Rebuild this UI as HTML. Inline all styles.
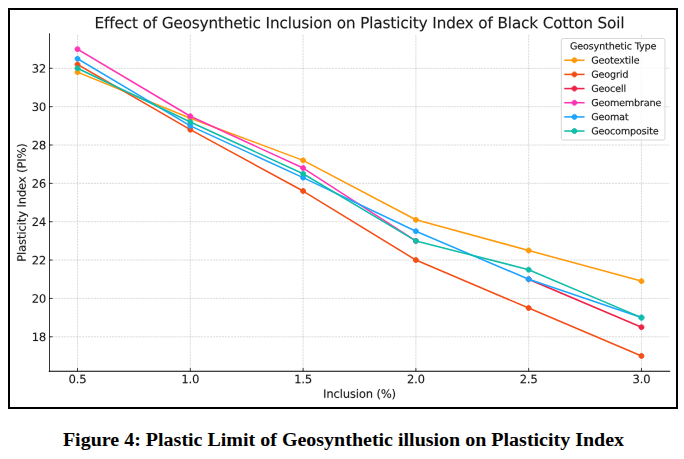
<!DOCTYPE html>
<html><head><meta charset="utf-8"><title>Figure 4</title>
<style>
html,body{margin:0;padding:0;background:#fff;}
body{width:684px;height:459px;position:relative;overflow:hidden;font-family:"Liberation Serif",serif;}
#frame{position:absolute;left:8px;top:8px;width:666px;height:397px;border:2px solid #000;background:#fff;overflow:hidden;}
#frame svg{position:absolute;left:0;top:0;width:666px;height:397px;display:block;}
#frame svg g[id^="text_"]{stroke:#1c1c1c;stroke-width:0.15px;fill:#1c1c1c;}
#frame svg path[id^="DejaVuSans"]{vector-effect:non-scaling-stroke;}
#cap{position:absolute;left:0;top:429px;width:687px;text-align:center;font-family:"Liberation Serif",serif;font-weight:bold;font-size:18px;line-height:22px;transform:scaleX(1.111);transform-origin:343.5px 0;color:#000;white-space:nowrap;}
</style></head><body>
<div id="frame"><svg viewBox="-0.4273 -0.0000 711.4238 422.8515" preserveAspectRatio="none"> <defs> <style type="text/css">*{stroke-linejoin: round; stroke-linecap: butt}</style> </defs> <g id="figure_1"> <g id="patch_1"> <path d="M 0 422.745 L 711.424 422.745 L 711.424 0 L 0 0 z " style="fill: #ffffff"/> </g> <g id="axes_1"> <g id="patch_2"> <path d="M 41.584 384.817 L 704.224 384.817 L 704.224 25.358 L 41.584 25.358 z " style="fill: #ffffff"/> </g> <g id="matplotlib.axis_1"> <g id="xtick_1"> <g id="line2d_1"> <path d="M 71.704 384.817 L 71.704 25.358 " clip-path="url(#pd07995633c)" style="fill: none; stroke-dasharray: 2.22,0.96; stroke-dashoffset: 0; stroke: #808080; stroke-opacity: 0.5; stroke-width: 0.6"/> </g> <g id="line2d_2"> <defs> <path id="m3690e3005e" d="M 0 0 L 0 -3.5 " style="stroke: #000000; stroke-width: 0.8"/> </defs> <g> <use href="#m3690e3005e" x="71.704" y="384.817" style="stroke: #000000; stroke-width: 0.8"/> </g> </g> <g id="text_1"> <!-- 0.5 --> <g transform="translate(62.162 397.436) scale(0.12 -0.12)"> <defs> <path id="DejaVuSans-30" d="M 2034 4250 Q 1547 4250 1301 3770 Q 1056 3291 1056 2328 Q 1056 1369 1301 889 Q 1547 409 2034 409 Q 2525 409 2770 889 Q 3016 1369 3016 2328 Q 3016 3291 2770 3770 Q 2525 4250 2034 4250 z M 2034 4750 Q 2819 4750 3233 4129 Q 3647 3509 3647 2328 Q 3647 1150 3233 529 Q 2819 -91 2034 -91 Q 1250 -91 836 529 Q 422 1150 422 2328 Q 422 3509 836 4129 Q 1250 4750 2034 4750 z " transform="scale(0.016)"/> <path id="DejaVuSans-2e" d="M 684 794 L 1344 794 L 1344 0 L 684 0 L 684 794 z " transform="scale(0.016)"/> <path id="DejaVuSans-35" d="M 691 4666 L 3169 4666 L 3169 4134 L 1269 4134 L 1269 2991 Q 1406 3038 1543 3061 Q 1681 3084 1819 3084 Q 2600 3084 3056 2656 Q 3513 2228 3513 1497 Q 3513 744 3044 326 Q 2575 -91 1722 -91 Q 1428 -91 1123 -41 Q 819 9 494 109 L 494 744 Q 775 591 1075 516 Q 1375 441 1709 441 Q 2250 441 2565 725 Q 2881 1009 2881 1497 Q 2881 1984 2565 2268 Q 2250 2553 1709 2553 Q 1456 2553 1204 2497 Q 953 2441 691 2322 L 691 4666 z " transform="scale(0.016)"/> </defs> <use href="#DejaVuSans-30"/> <use href="#DejaVuSans-2e" transform="translate(63.623 0)"/> <use href="#DejaVuSans-35" transform="translate(95.41 0)"/> </g> </g> </g> <g id="xtick_2"> <g id="line2d_3"> <path d="M 192.184 384.817 L 192.184 25.358 " clip-path="url(#pd07995633c)" style="fill: none; stroke-dasharray: 2.22,0.96; stroke-dashoffset: 0; stroke: #808080; stroke-opacity: 0.5; stroke-width: 0.6"/> </g> <g id="line2d_4"> <g> <use href="#m3690e3005e" x="192.184" y="384.817" style="stroke: #000000; stroke-width: 0.8"/> </g> </g> <g id="text_2"> <!-- 1.0 --> <g transform="translate(182.642 397.436) scale(0.12 -0.12)"> <defs> <path id="DejaVuSans-31" d="M 794 531 L 1825 531 L 1825 4091 L 703 3866 L 703 4441 L 1819 4666 L 2450 4666 L 2450 531 L 3481 531 L 3481 0 L 794 0 L 794 531 z " transform="scale(0.016)"/> </defs> <use href="#DejaVuSans-31"/> <use href="#DejaVuSans-2e" transform="translate(63.623 0)"/> <use href="#DejaVuSans-30" transform="translate(95.41 0)"/> </g> </g> </g> <g id="xtick_3"> <g id="line2d_5"> <path d="M 312.664 384.817 L 312.664 25.358 " clip-path="url(#pd07995633c)" style="fill: none; stroke-dasharray: 2.22,0.96; stroke-dashoffset: 0; stroke: #808080; stroke-opacity: 0.5; stroke-width: 0.6"/> </g> <g id="line2d_6"> <g> <use href="#m3690e3005e" x="312.664" y="384.817" style="stroke: #000000; stroke-width: 0.8"/> </g> </g> <g id="text_3"> <!-- 1.5 --> <g transform="translate(303.122 397.436) scale(0.12 -0.12)"> <use href="#DejaVuSans-31"/> <use href="#DejaVuSans-2e" transform="translate(63.623 0)"/> <use href="#DejaVuSans-35" transform="translate(95.41 0)"/> </g> </g> </g> <g id="xtick_4"> <g id="line2d_7"> <path d="M 433.144 384.817 L 433.144 25.358 " clip-path="url(#pd07995633c)" style="fill: none; stroke-dasharray: 2.22,0.96; stroke-dashoffset: 0; stroke: #808080; stroke-opacity: 0.5; stroke-width: 0.6"/> </g> <g id="line2d_8"> <g> <use href="#m3690e3005e" x="433.144" y="384.817" style="stroke: #000000; stroke-width: 0.8"/> </g> </g> <g id="text_4"> <!-- 2.0 --> <g transform="translate(423.602 397.436) scale(0.12 -0.12)"> <defs> <path id="DejaVuSans-32" d="M 1228 531 L 3431 531 L 3431 0 L 469 0 L 469 531 Q 828 903 1448 1529 Q 2069 2156 2228 2338 Q 2531 2678 2651 2914 Q 2772 3150 2772 3378 Q 2772 3750 2511 3984 Q 2250 4219 1831 4219 Q 1534 4219 1204 4116 Q 875 4013 500 3803 L 500 4441 Q 881 4594 1212 4672 Q 1544 4750 1819 4750 Q 2544 4750 2975 4387 Q 3406 4025 3406 3419 Q 3406 3131 3298 2873 Q 3191 2616 2906 2266 Q 2828 2175 2409 1742 Q 1991 1309 1228 531 z " transform="scale(0.016)"/> </defs> <use href="#DejaVuSans-32"/> <use href="#DejaVuSans-2e" transform="translate(63.623 0)"/> <use href="#DejaVuSans-30" transform="translate(95.41 0)"/> </g> </g> </g> <g id="xtick_5"> <g id="line2d_9"> <path d="M 553.624 384.817 L 553.624 25.358 " clip-path="url(#pd07995633c)" style="fill: none; stroke-dasharray: 2.22,0.96; stroke-dashoffset: 0; stroke: #808080; stroke-opacity: 0.5; stroke-width: 0.6"/> </g> <g id="line2d_10"> <g> <use href="#m3690e3005e" x="553.624" y="384.817" style="stroke: #000000; stroke-width: 0.8"/> </g> </g> <g id="text_5"> <!-- 2.5 --> <g transform="translate(544.082 397.436) scale(0.12 -0.12)"> <use href="#DejaVuSans-32"/> <use href="#DejaVuSans-2e" transform="translate(63.623 0)"/> <use href="#DejaVuSans-35" transform="translate(95.41 0)"/> </g> </g> </g> <g id="xtick_6"> <g id="line2d_11"> <path d="M 674.104 384.817 L 674.104 25.358 " clip-path="url(#pd07995633c)" style="fill: none; stroke-dasharray: 2.22,0.96; stroke-dashoffset: 0; stroke: #808080; stroke-opacity: 0.5; stroke-width: 0.6"/> </g> <g id="line2d_12"> <g> <use href="#m3690e3005e" x="674.104" y="384.817" style="stroke: #000000; stroke-width: 0.8"/> </g> </g> <g id="text_6"> <!-- 3.0 --> <g transform="translate(664.562 397.436) scale(0.12 -0.12)"> <defs> <path id="DejaVuSans-33" d="M 2597 2516 Q 3050 2419 3304 2112 Q 3559 1806 3559 1356 Q 3559 666 3084 287 Q 2609 -91 1734 -91 Q 1441 -91 1130 -33 Q 819 25 488 141 L 488 750 Q 750 597 1062 519 Q 1375 441 1716 441 Q 2309 441 2620 675 Q 2931 909 2931 1356 Q 2931 1769 2642 2001 Q 2353 2234 1838 2234 L 1294 2234 L 1294 2753 L 1863 2753 Q 2328 2753 2575 2939 Q 2822 3125 2822 3475 Q 2822 3834 2567 4026 Q 2313 4219 1838 4219 Q 1578 4219 1281 4162 Q 984 4106 628 3988 L 628 4550 Q 988 4650 1302 4700 Q 1616 4750 1894 4750 Q 2613 4750 3031 4423 Q 3450 4097 3450 3541 Q 3450 3153 3228 2886 Q 3006 2619 2597 2516 z " transform="scale(0.016)"/> </defs> <use href="#DejaVuSans-33"/> <use href="#DejaVuSans-2e" transform="translate(63.623 0)"/> <use href="#DejaVuSans-30" transform="translate(95.41 0)"/> </g> </g> </g> <g id="text_7"> <!-- Inclusion (%) --> <g transform="translate(334.007 413.049) scale(0.12 -0.12)"> <defs> <path id="DejaVuSans-49" d="M 628 4666 L 1259 4666 L 1259 0 L 628 0 L 628 4666 z " transform="scale(0.016)"/> <path id="DejaVuSans-6e" d="M 3513 2113 L 3513 0 L 2938 0 L 2938 2094 Q 2938 2591 2744 2837 Q 2550 3084 2163 3084 Q 1697 3084 1428 2787 Q 1159 2491 1159 1978 L 1159 0 L 581 0 L 581 3500 L 1159 3500 L 1159 2956 Q 1366 3272 1645 3428 Q 1925 3584 2291 3584 Q 2894 3584 3203 3211 Q 3513 2838 3513 2113 z " transform="scale(0.016)"/> <path id="DejaVuSans-63" d="M 3122 3366 L 3122 2828 Q 2878 2963 2633 3030 Q 2388 3097 2138 3097 Q 1578 3097 1268 2742 Q 959 2388 959 1747 Q 959 1106 1268 751 Q 1578 397 2138 397 Q 2388 397 2633 464 Q 2878 531 3122 666 L 3122 134 Q 2881 22 2623 -34 Q 2366 -91 2075 -91 Q 1284 -91 818 406 Q 353 903 353 1747 Q 353 2603 823 3093 Q 1294 3584 2113 3584 Q 2378 3584 2631 3529 Q 2884 3475 3122 3366 z " transform="scale(0.016)"/> <path id="DejaVuSans-6c" d="M 603 4863 L 1178 4863 L 1178 0 L 603 0 L 603 4863 z " transform="scale(0.016)"/> <path id="DejaVuSans-75" d="M 544 1381 L 544 3500 L 1119 3500 L 1119 1403 Q 1119 906 1312 657 Q 1506 409 1894 409 Q 2359 409 2629 706 Q 2900 1003 2900 1516 L 2900 3500 L 3475 3500 L 3475 0 L 2900 0 L 2900 538 Q 2691 219 2414 64 Q 2138 -91 1772 -91 Q 1169 -91 856 284 Q 544 659 544 1381 z M 1991 3584 L 1991 3584 z " transform="scale(0.016)"/> <path id="DejaVuSans-73" d="M 2834 3397 L 2834 2853 Q 2591 2978 2328 3040 Q 2066 3103 1784 3103 Q 1356 3103 1142 2972 Q 928 2841 928 2578 Q 928 2378 1081 2264 Q 1234 2150 1697 2047 L 1894 2003 Q 2506 1872 2764 1633 Q 3022 1394 3022 966 Q 3022 478 2636 193 Q 2250 -91 1575 -91 Q 1294 -91 989 -36 Q 684 19 347 128 L 347 722 Q 666 556 975 473 Q 1284 391 1588 391 Q 1994 391 2212 530 Q 2431 669 2431 922 Q 2431 1156 2273 1281 Q 2116 1406 1581 1522 L 1381 1569 Q 847 1681 609 1914 Q 372 2147 372 2553 Q 372 3047 722 3315 Q 1072 3584 1716 3584 Q 2034 3584 2315 3537 Q 2597 3491 2834 3397 z " transform="scale(0.016)"/> <path id="DejaVuSans-69" d="M 603 3500 L 1178 3500 L 1178 0 L 603 0 L 603 3500 z M 603 4863 L 1178 4863 L 1178 4134 L 603 4134 L 603 4863 z " transform="scale(0.016)"/> <path id="DejaVuSans-6f" d="M 1959 3097 Q 1497 3097 1228 2736 Q 959 2375 959 1747 Q 959 1119 1226 758 Q 1494 397 1959 397 Q 2419 397 2687 759 Q 2956 1122 2956 1747 Q 2956 2369 2687 2733 Q 2419 3097 1959 3097 z M 1959 3584 Q 2709 3584 3137 3096 Q 3566 2609 3566 1747 Q 3566 888 3137 398 Q 2709 -91 1959 -91 Q 1206 -91 779 398 Q 353 888 353 1747 Q 353 2609 779 3096 Q 1206 3584 1959 3584 z " transform="scale(0.016)"/> <path id="DejaVuSans-20" transform="scale(0.016)"/> <path id="DejaVuSans-28" d="M 1984 4856 Q 1566 4138 1362 3434 Q 1159 2731 1159 2009 Q 1159 1288 1364 580 Q 1569 -128 1984 -844 L 1484 -844 Q 1016 -109 783 600 Q 550 1309 550 2009 Q 550 2706 781 3412 Q 1013 4119 1484 4856 L 1984 4856 z " transform="scale(0.016)"/> <path id="DejaVuSans-25" d="M 4653 2053 Q 4381 2053 4226 1822 Q 4072 1591 4072 1178 Q 4072 772 4226 539 Q 4381 306 4653 306 Q 4919 306 5073 539 Q 5228 772 5228 1178 Q 5228 1588 5073 1820 Q 4919 2053 4653 2053 z M 4653 2450 Q 5147 2450 5437 2106 Q 5728 1763 5728 1178 Q 5728 594 5436 251 Q 5144 -91 4653 -91 Q 4153 -91 3862 251 Q 3572 594 3572 1178 Q 3572 1766 3864 2108 Q 4156 2450 4653 2450 z M 1428 4353 Q 1159 4353 1004 4120 Q 850 3888 850 3481 Q 850 3069 1003 2837 Q 1156 2606 1428 2606 Q 1700 2606 1854 2837 Q 2009 3069 2009 3481 Q 2009 3884 1853 4118 Q 1697 4353 1428 4353 z M 4250 4750 L 4750 4750 L 1831 -91 L 1331 -91 L 4250 4750 z M 1428 4750 Q 1922 4750 2215 4408 Q 2509 4066 2509 3481 Q 2509 2891 2217 2550 Q 1925 2209 1428 2209 Q 931 2209 642 2551 Q 353 2894 353 3481 Q 353 4063 643 4406 Q 934 4750 1428 4750 z " transform="scale(0.016)"/> <path id="DejaVuSans-29" d="M 513 4856 L 1013 4856 Q 1481 4119 1714 3412 Q 1947 2706 1947 2009 Q 1947 1309 1714 600 Q 1481 -109 1013 -844 L 513 -844 Q 928 -128 1133 580 Q 1338 1288 1338 2009 Q 1338 2731 1133 3434 Q 928 4138 513 4856 z " transform="scale(0.016)"/> </defs> <use href="#DejaVuSans-49"/> <use href="#DejaVuSans-6e" transform="translate(29.492 0)"/> <use href="#DejaVuSans-63" transform="translate(92.871 0)"/> <use href="#DejaVuSans-6c" transform="translate(147.852 0)"/> <use href="#DejaVuSans-75" transform="translate(175.635 0)"/> <use href="#DejaVuSans-73" transform="translate(239.014 0)"/> <use href="#DejaVuSans-69" transform="translate(291.113 0)"/> <use href="#DejaVuSans-6f" transform="translate(318.896 0)"/> <use href="#DejaVuSans-6e" transform="translate(380.078 0)"/> <use href="#DejaVuSans-20" transform="translate(443.457 0)"/> <use href="#DejaVuSans-28" transform="translate(475.244 0)"/> <use href="#DejaVuSans-25" transform="translate(514.258 0)"/> <use href="#DejaVuSans-29" transform="translate(609.277 0)"/> </g> </g> </g> <g id="matplotlib.axis_2"> <g id="ytick_1"> <g id="line2d_13"> <path d="M 41.584 348.055 L 704.224 348.055 " clip-path="url(#pd07995633c)" style="fill: none; stroke-dasharray: 2.22,0.96; stroke-dashoffset: 0; stroke: #808080; stroke-opacity: 0.5; stroke-width: 0.6"/> </g> <g id="line2d_14"> <defs> <path id="m168d1736cb" d="M 0 0 L 3.5 0 " style="stroke: #000000; stroke-width: 0.8"/> </defs> <g> <use href="#m168d1736cb" x="41.584" y="348.055" style="stroke: #000000; stroke-width: 0.8"/> </g> </g> <g id="text_8"> <!-- 18 --> <g transform="translate(22.814 352.614) scale(0.12 -0.12)"> <defs> <path id="DejaVuSans-38" d="M 2034 2216 Q 1584 2216 1326 1975 Q 1069 1734 1069 1313 Q 1069 891 1326 650 Q 1584 409 2034 409 Q 2484 409 2743 651 Q 3003 894 3003 1313 Q 3003 1734 2745 1975 Q 2488 2216 2034 2216 z M 1403 2484 Q 997 2584 770 2862 Q 544 3141 544 3541 Q 544 4100 942 4425 Q 1341 4750 2034 4750 Q 2731 4750 3128 4425 Q 3525 4100 3525 3541 Q 3525 3141 3298 2862 Q 3072 2584 2669 2484 Q 3125 2378 3379 2068 Q 3634 1759 3634 1313 Q 3634 634 3220 271 Q 2806 -91 2034 -91 Q 1263 -91 848 271 Q 434 634 434 1313 Q 434 1759 690 2068 Q 947 2378 1403 2484 z M 1172 3481 Q 1172 3119 1398 2916 Q 1625 2713 2034 2713 Q 2441 2713 2670 2916 Q 2900 3119 2900 3481 Q 2900 3844 2670 4047 Q 2441 4250 2034 4250 Q 1625 4250 1398 4047 Q 1172 3844 1172 3481 z " transform="scale(0.016)"/> </defs> <use href="#DejaVuSans-31"/> <use href="#DejaVuSans-38" transform="translate(63.623 0)"/> </g> </g> </g> <g id="ytick_2"> <g id="line2d_15"> <path d="M 41.584 307.207 L 704.224 307.207 " clip-path="url(#pd07995633c)" style="fill: none; stroke-dasharray: 2.22,0.96; stroke-dashoffset: 0; stroke: #808080; stroke-opacity: 0.5; stroke-width: 0.6"/> </g> <g id="line2d_16"> <g> <use href="#m168d1736cb" x="41.584" y="307.207" style="stroke: #000000; stroke-width: 0.8"/> </g> </g> <g id="text_9"> <!-- 20 --> <g transform="translate(22.814 311.766) scale(0.12 -0.12)"> <use href="#DejaVuSans-32"/> <use href="#DejaVuSans-30" transform="translate(63.623 0)"/> </g> </g> </g> <g id="ytick_3"> <g id="line2d_17"> <path d="M 41.584 266.359 L 704.224 266.359 " clip-path="url(#pd07995633c)" style="fill: none; stroke-dasharray: 2.22,0.96; stroke-dashoffset: 0; stroke: #808080; stroke-opacity: 0.5; stroke-width: 0.6"/> </g> <g id="line2d_18"> <g> <use href="#m168d1736cb" x="41.584" y="266.359" style="stroke: #000000; stroke-width: 0.8"/> </g> </g> <g id="text_10"> <!-- 22 --> <g transform="translate(22.814 270.918) scale(0.12 -0.12)"> <use href="#DejaVuSans-32"/> <use href="#DejaVuSans-32" transform="translate(63.623 0)"/> </g> </g> </g> <g id="ytick_4"> <g id="line2d_19"> <path d="M 41.584 225.511 L 704.224 225.511 " clip-path="url(#pd07995633c)" style="fill: none; stroke-dasharray: 2.22,0.96; stroke-dashoffset: 0; stroke: #808080; stroke-opacity: 0.5; stroke-width: 0.6"/> </g> <g id="line2d_20"> <g> <use href="#m168d1736cb" x="41.584" y="225.511" style="stroke: #000000; stroke-width: 0.8"/> </g> </g> <g id="text_11"> <!-- 24 --> <g transform="translate(22.814 230.07) scale(0.12 -0.12)"> <defs> <path id="DejaVuSans-34" d="M 2419 4116 L 825 1625 L 2419 1625 L 2419 4116 z M 2253 4666 L 3047 4666 L 3047 1625 L 3713 1625 L 3713 1100 L 3047 1100 L 3047 0 L 2419 0 L 2419 1100 L 313 1100 L 313 1709 L 2253 4666 z " transform="scale(0.016)"/> </defs> <use href="#DejaVuSans-32"/> <use href="#DejaVuSans-34" transform="translate(63.623 0)"/> </g> </g> </g> <g id="ytick_5"> <g id="line2d_21"> <path d="M 41.584 184.664 L 704.224 184.664 " clip-path="url(#pd07995633c)" style="fill: none; stroke-dasharray: 2.22,0.96; stroke-dashoffset: 0; stroke: #808080; stroke-opacity: 0.5; stroke-width: 0.6"/> </g> <g id="line2d_22"> <g> <use href="#m168d1736cb" x="41.584" y="184.664" style="stroke: #000000; stroke-width: 0.8"/> </g> </g> <g id="text_12"> <!-- 26 --> <g transform="translate(22.814 189.223) scale(0.12 -0.12)"> <defs> <path id="DejaVuSans-36" d="M 2113 2584 Q 1688 2584 1439 2293 Q 1191 2003 1191 1497 Q 1191 994 1439 701 Q 1688 409 2113 409 Q 2538 409 2786 701 Q 3034 994 3034 1497 Q 3034 2003 2786 2293 Q 2538 2584 2113 2584 z M 3366 4563 L 3366 3988 Q 3128 4100 2886 4159 Q 2644 4219 2406 4219 Q 1781 4219 1451 3797 Q 1122 3375 1075 2522 Q 1259 2794 1537 2939 Q 1816 3084 2150 3084 Q 2853 3084 3261 2657 Q 3669 2231 3669 1497 Q 3669 778 3244 343 Q 2819 -91 2113 -91 Q 1303 -91 875 529 Q 447 1150 447 2328 Q 447 3434 972 4092 Q 1497 4750 2381 4750 Q 2619 4750 2861 4703 Q 3103 4656 3366 4563 z " transform="scale(0.016)"/> </defs> <use href="#DejaVuSans-32"/> <use href="#DejaVuSans-36" transform="translate(63.623 0)"/> </g> </g> </g> <g id="ytick_6"> <g id="line2d_23"> <path d="M 41.584 143.816 L 704.224 143.816 " clip-path="url(#pd07995633c)" style="fill: none; stroke-dasharray: 2.22,0.96; stroke-dashoffset: 0; stroke: #808080; stroke-opacity: 0.5; stroke-width: 0.6"/> </g> <g id="line2d_24"> <g> <use href="#m168d1736cb" x="41.584" y="143.816" style="stroke: #000000; stroke-width: 0.8"/> </g> </g> <g id="text_13"> <!-- 28 --> <g transform="translate(22.814 148.375) scale(0.12 -0.12)"> <use href="#DejaVuSans-32"/> <use href="#DejaVuSans-38" transform="translate(63.623 0)"/> </g> </g> </g> <g id="ytick_7"> <g id="line2d_25"> <path d="M 41.584 102.968 L 704.224 102.968 " clip-path="url(#pd07995633c)" style="fill: none; stroke-dasharray: 2.22,0.96; stroke-dashoffset: 0; stroke: #808080; stroke-opacity: 0.5; stroke-width: 0.6"/> </g> <g id="line2d_26"> <g> <use href="#m168d1736cb" x="41.584" y="102.968" style="stroke: #000000; stroke-width: 0.8"/> </g> </g> <g id="text_14"> <!-- 30 --> <g transform="translate(22.814 107.527) scale(0.12 -0.12)"> <use href="#DejaVuSans-33"/> <use href="#DejaVuSans-30" transform="translate(63.623 0)"/> </g> </g> </g> <g id="ytick_8"> <g id="line2d_27"> <path d="M 41.584 62.12 L 704.224 62.12 " clip-path="url(#pd07995633c)" style="fill: none; stroke-dasharray: 2.22,0.96; stroke-dashoffset: 0; stroke: #808080; stroke-opacity: 0.5; stroke-width: 0.6"/> </g> <g id="line2d_28"> <g> <use href="#m168d1736cb" x="41.584" y="62.12" style="stroke: #000000; stroke-width: 0.8"/> </g> </g> <g id="text_15"> <!-- 32 --> <g transform="translate(22.814 66.68) scale(0.12 -0.12)"> <use href="#DejaVuSans-33"/> <use href="#DejaVuSans-32" transform="translate(63.623 0)"/> </g> </g> </g> <g id="text_16"> <!-- Plasticity Index (PI%) --> <g transform="translate(16.318 268.167) rotate(-90) scale(0.12 -0.12)"> <defs> <path id="DejaVuSans-50" d="M 1259 4147 L 1259 2394 L 2053 2394 Q 2494 2394 2734 2622 Q 2975 2850 2975 3272 Q 2975 3691 2734 3919 Q 2494 4147 2053 4147 L 1259 4147 z M 628 4666 L 2053 4666 Q 2838 4666 3239 4311 Q 3641 3956 3641 3272 Q 3641 2581 3239 2228 Q 2838 1875 2053 1875 L 1259 1875 L 1259 0 L 628 0 L 628 4666 z " transform="scale(0.016)"/> <path id="DejaVuSans-61" d="M 2194 1759 Q 1497 1759 1228 1600 Q 959 1441 959 1056 Q 959 750 1161 570 Q 1363 391 1709 391 Q 2188 391 2477 730 Q 2766 1069 2766 1631 L 2766 1759 L 2194 1759 z M 3341 1997 L 3341 0 L 2766 0 L 2766 531 Q 2569 213 2275 61 Q 1981 -91 1556 -91 Q 1019 -91 701 211 Q 384 513 384 1019 Q 384 1609 779 1909 Q 1175 2209 1959 2209 L 2766 2209 L 2766 2266 Q 2766 2663 2505 2880 Q 2244 3097 1772 3097 Q 1472 3097 1187 3025 Q 903 2953 641 2809 L 641 3341 Q 956 3463 1253 3523 Q 1550 3584 1831 3584 Q 2591 3584 2966 3190 Q 3341 2797 3341 1997 z " transform="scale(0.016)"/> <path id="DejaVuSans-74" d="M 1172 4494 L 1172 3500 L 2356 3500 L 2356 3053 L 1172 3053 L 1172 1153 Q 1172 725 1289 603 Q 1406 481 1766 481 L 2356 481 L 2356 0 L 1766 0 Q 1100 0 847 248 Q 594 497 594 1153 L 594 3053 L 172 3053 L 172 3500 L 594 3500 L 594 4494 L 1172 4494 z " transform="scale(0.016)"/> <path id="DejaVuSans-79" d="M 2059 -325 Q 1816 -950 1584 -1140 Q 1353 -1331 966 -1331 L 506 -1331 L 506 -850 L 844 -850 Q 1081 -850 1212 -737 Q 1344 -625 1503 -206 L 1606 56 L 191 3500 L 800 3500 L 1894 763 L 2988 3500 L 3597 3500 L 2059 -325 z " transform="scale(0.016)"/> <path id="DejaVuSans-64" d="M 2906 2969 L 2906 4863 L 3481 4863 L 3481 0 L 2906 0 L 2906 525 Q 2725 213 2448 61 Q 2172 -91 1784 -91 Q 1150 -91 751 415 Q 353 922 353 1747 Q 353 2572 751 3078 Q 1150 3584 1784 3584 Q 2172 3584 2448 3432 Q 2725 3281 2906 2969 z M 947 1747 Q 947 1113 1208 752 Q 1469 391 1925 391 Q 2381 391 2643 752 Q 2906 1113 2906 1747 Q 2906 2381 2643 2742 Q 2381 3103 1925 3103 Q 1469 3103 1208 2742 Q 947 2381 947 1747 z " transform="scale(0.016)"/> <path id="DejaVuSans-65" d="M 3597 1894 L 3597 1613 L 953 1613 Q 991 1019 1311 708 Q 1631 397 2203 397 Q 2534 397 2845 478 Q 3156 559 3463 722 L 3463 178 Q 3153 47 2828 -22 Q 2503 -91 2169 -91 Q 1331 -91 842 396 Q 353 884 353 1716 Q 353 2575 817 3079 Q 1281 3584 2069 3584 Q 2775 3584 3186 3129 Q 3597 2675 3597 1894 z M 3022 2063 Q 3016 2534 2758 2815 Q 2500 3097 2075 3097 Q 1594 3097 1305 2825 Q 1016 2553 972 2059 L 3022 2063 z " transform="scale(0.016)"/> <path id="DejaVuSans-78" d="M 3513 3500 L 2247 1797 L 3578 0 L 2900 0 L 1881 1375 L 863 0 L 184 0 L 1544 1831 L 300 3500 L 978 3500 L 1906 2253 L 2834 3500 L 3513 3500 z " transform="scale(0.016)"/> </defs> <use href="#DejaVuSans-50"/> <use href="#DejaVuSans-6c" transform="translate(60.303 0)"/> <use href="#DejaVuSans-61" transform="translate(88.086 0)"/> <use href="#DejaVuSans-73" transform="translate(149.365 0)"/> <use href="#DejaVuSans-74" transform="translate(201.465 0)"/> <use href="#DejaVuSans-69" transform="translate(240.674 0)"/> <use href="#DejaVuSans-63" transform="translate(268.457 0)"/> <use href="#DejaVuSans-69" transform="translate(323.438 0)"/> <use href="#DejaVuSans-74" transform="translate(351.221 0)"/> <use href="#DejaVuSans-79" transform="translate(390.43 0)"/> <use href="#DejaVuSans-20" transform="translate(449.609 0)"/> <use href="#DejaVuSans-49" transform="translate(481.396 0)"/> <use href="#DejaVuSans-6e" transform="translate(510.889 0)"/> <use href="#DejaVuSans-64" transform="translate(574.268 0)"/> <use href="#DejaVuSans-65" transform="translate(637.744 0)"/> <use href="#DejaVuSans-78" transform="translate(697.518 0)"/> <use href="#DejaVuSans-20" transform="translate(756.697 0)"/> <use href="#DejaVuSans-28" transform="translate(788.484 0)"/> <use href="#DejaVuSans-50" transform="translate(827.498 0)"/> <use href="#DejaVuSans-49" transform="translate(887.801 0)"/> <use href="#DejaVuSans-25" transform="translate(917.293 0)"/> <use href="#DejaVuSans-29" transform="translate(1012.312 0)"/> </g> </g> </g> <g id="line2d_29"> <path d="M 71.704 66.205 L 192.184 115.222 L 312.664 160.155 L 433.144 223.469 L 553.624 256.147 L 674.104 288.825 " clip-path="url(#pd07995633c)" style="fill: none; stroke: #ff9a0a; stroke-width: 1.65; stroke-linecap: square"/> <defs> <path id="m52449b6ec6" d="M 0 2.65 C 0.703 2.65 1.377 2.371 1.874 1.874 C 2.371 1.377 2.65 0.703 2.65 0 C 2.65 -0.703 2.371 -1.377 1.874 -1.874 C 1.377 -2.371 0.703 -2.65 0 -2.65 C -0.703 -2.65 -1.377 -2.371 -1.874 -1.874 C -2.371 -1.377 -2.65 -0.703 -2.65 0 C -2.65 0.703 -2.371 1.377 -1.874 1.874 C -1.377 2.371 -0.703 2.65 0 2.65 z " style="stroke: #ff9a0a"/> </defs> <g clip-path="url(#pd07995633c)"> <use href="#m52449b6ec6" x="71.704" y="66.205" style="fill: #ff9a0a; stroke: #ff9a0a"/> <use href="#m52449b6ec6" x="192.184" y="115.222" style="fill: #ff9a0a; stroke: #ff9a0a"/> <use href="#m52449b6ec6" x="312.664" y="160.155" style="fill: #ff9a0a; stroke: #ff9a0a"/> <use href="#m52449b6ec6" x="433.144" y="223.469" style="fill: #ff9a0a; stroke: #ff9a0a"/> <use href="#m52449b6ec6" x="553.624" y="256.147" style="fill: #ff9a0a; stroke: #ff9a0a"/> <use href="#m52449b6ec6" x="674.104" y="288.825" style="fill: #ff9a0a; stroke: #ff9a0a"/> </g> </g> <g id="line2d_30"> <path d="M 71.704 58.036 L 192.184 127.477 L 312.664 192.833 L 433.144 266.359 L 553.624 317.419 L 674.104 368.478 " clip-path="url(#pd07995633c)" style="fill: none; stroke: #f44e16; stroke-width: 1.65; stroke-linecap: square"/> <defs> <path id="m06e611235e" d="M 0 2.65 C 0.703 2.65 1.377 2.371 1.874 1.874 C 2.371 1.377 2.65 0.703 2.65 0 C 2.65 -0.703 2.371 -1.377 1.874 -1.874 C 1.377 -2.371 0.703 -2.65 0 -2.65 C -0.703 -2.65 -1.377 -2.371 -1.874 -1.874 C -2.371 -1.377 -2.65 -0.703 -2.65 0 C -2.65 0.703 -2.371 1.377 -1.874 1.874 C -1.377 2.371 -0.703 2.65 0 2.65 z " style="stroke: #f44e16"/> </defs> <g clip-path="url(#pd07995633c)"> <use href="#m06e611235e" x="71.704" y="58.036" style="fill: #f44e16; stroke: #f44e16"/> <use href="#m06e611235e" x="192.184" y="127.477" style="fill: #f44e16; stroke: #f44e16"/> <use href="#m06e611235e" x="312.664" y="192.833" style="fill: #f44e16; stroke: #f44e16"/> <use href="#m06e611235e" x="433.144" y="266.359" style="fill: #f44e16; stroke: #f44e16"/> <use href="#m06e611235e" x="553.624" y="317.419" style="fill: #f44e16; stroke: #f44e16"/> <use href="#m06e611235e" x="674.104" y="368.478" style="fill: #f44e16; stroke: #f44e16"/> </g> </g> <g id="line2d_31"> <path d="M 553.624 286.783 L 674.104 337.843 " clip-path="url(#pd07995633c)" style="fill: none; stroke: #ef2248; stroke-width: 1.65; stroke-linecap: square"/> <defs> <path id="mc37b9d2860" d="M 0 2.65 C 0.703 2.65 1.377 2.371 1.874 1.874 C 2.371 1.377 2.65 0.703 2.65 0 C 2.65 -0.703 2.371 -1.377 1.874 -1.874 C 1.377 -2.371 0.703 -2.65 0 -2.65 C -0.703 -2.65 -1.377 -2.371 -1.874 -1.874 C -2.371 -1.377 -2.65 -0.703 -2.65 0 C -2.65 0.703 -2.371 1.377 -1.874 1.874 C -1.377 2.371 -0.703 2.65 0 2.65 z " style="stroke: #ef2248"/> </defs> <g clip-path="url(#pd07995633c)"> <use href="#mc37b9d2860" x="553.624" y="286.783" style="fill: #ef2248; stroke: #ef2248"/> <use href="#mc37b9d2860" x="674.104" y="337.843" style="fill: #ef2248; stroke: #ef2248"/> </g> </g> <g id="line2d_32"> <path d="M 71.704 41.697 L 192.184 113.18 L 312.664 168.325 L 433.144 245.935 " clip-path="url(#pd07995633c)" style="fill: none; stroke: #ff36b4; stroke-width: 1.65; stroke-linecap: square"/> <defs> <path id="m6ee39c3e24" d="M 0 2.65 C 0.703 2.65 1.377 2.371 1.874 1.874 C 2.371 1.377 2.65 0.703 2.65 0 C 2.65 -0.703 2.371 -1.377 1.874 -1.874 C 1.377 -2.371 0.703 -2.65 0 -2.65 C -0.703 -2.65 -1.377 -2.371 -1.874 -1.874 C -2.371 -1.377 -2.65 -0.703 -2.65 0 C -2.65 0.703 -2.371 1.377 -1.874 1.874 C -1.377 2.371 -0.703 2.65 0 2.65 z " style="stroke: #ff36b4"/> </defs> <g clip-path="url(#pd07995633c)"> <use href="#m6ee39c3e24" x="71.704" y="41.697" style="fill: #ff36b4; stroke: #ff36b4"/> <use href="#m6ee39c3e24" x="192.184" y="113.18" style="fill: #ff36b4; stroke: #ff36b4"/> <use href="#m6ee39c3e24" x="312.664" y="168.325" style="fill: #ff36b4; stroke: #ff36b4"/> <use href="#m6ee39c3e24" x="433.144" y="245.935" style="fill: #ff36b4; stroke: #ff36b4"/> </g> </g> <g id="line2d_33"> <path d="M 71.704 51.909 L 192.184 123.392 L 312.664 178.536 L 433.144 235.723 L 553.624 286.783 L 674.104 327.631 " clip-path="url(#pd07995633c)" style="fill: none; stroke: #1ca4ff; stroke-width: 1.65; stroke-linecap: square"/> <defs> <path id="m31821028c3" d="M 0 2.65 C 0.703 2.65 1.377 2.371 1.874 1.874 C 2.371 1.377 2.65 0.703 2.65 0 C 2.65 -0.703 2.371 -1.377 1.874 -1.874 C 1.377 -2.371 0.703 -2.65 0 -2.65 C -0.703 -2.65 -1.377 -2.371 -1.874 -1.874 C -2.371 -1.377 -2.65 -0.703 -2.65 0 C -2.65 0.703 -2.371 1.377 -1.874 1.874 C -1.377 2.371 -0.703 2.65 0 2.65 z " style="stroke: #1ca4ff"/> </defs> <g clip-path="url(#pd07995633c)"> <use href="#m31821028c3" x="71.704" y="51.909" style="fill: #1ca4ff; stroke: #1ca4ff"/> <use href="#m31821028c3" x="192.184" y="123.392" style="fill: #1ca4ff; stroke: #1ca4ff"/> <use href="#m31821028c3" x="312.664" y="178.536" style="fill: #1ca4ff; stroke: #1ca4ff"/> <use href="#m31821028c3" x="433.144" y="235.723" style="fill: #1ca4ff; stroke: #1ca4ff"/> <use href="#m31821028c3" x="553.624" y="286.783" style="fill: #1ca4ff; stroke: #1ca4ff"/> <use href="#m31821028c3" x="674.104" y="327.631" style="fill: #1ca4ff; stroke: #1ca4ff"/> </g> </g> <g id="line2d_34"> <path d="M 71.704 62.12 L 192.184 119.307 L 312.664 174.452 L 433.144 245.935 L 553.624 276.571 L 674.104 327.631 " clip-path="url(#pd07995633c)" style="fill: none; stroke: #10bda8; stroke-width: 1.65; stroke-linecap: square"/> <defs> <path id="ma050b7226b" d="M 0 2.65 C 0.703 2.65 1.377 2.371 1.874 1.874 C 2.371 1.377 2.65 0.703 2.65 0 C 2.65 -0.703 2.371 -1.377 1.874 -1.874 C 1.377 -2.371 0.703 -2.65 0 -2.65 C -0.703 -2.65 -1.377 -2.371 -1.874 -1.874 C -2.371 -1.377 -2.65 -0.703 -2.65 0 C -2.65 0.703 -2.371 1.377 -1.874 1.874 C -1.377 2.371 -0.703 2.65 0 2.65 z " style="stroke: #10bda8"/> </defs> <g clip-path="url(#pd07995633c)"> <use href="#ma050b7226b" x="71.704" y="62.12" style="fill: #10bda8; stroke: #10bda8"/> <use href="#ma050b7226b" x="192.184" y="119.307" style="fill: #10bda8; stroke: #10bda8"/> <use href="#ma050b7226b" x="312.664" y="174.452" style="fill: #10bda8; stroke: #10bda8"/> <use href="#ma050b7226b" x="433.144" y="245.935" style="fill: #10bda8; stroke: #10bda8"/> <use href="#ma050b7226b" x="553.624" y="276.571" style="fill: #10bda8; stroke: #10bda8"/> <use href="#ma050b7226b" x="674.104" y="327.631" style="fill: #10bda8; stroke: #10bda8"/> </g> </g> <g id="patch_3"> <path d="M 41.767 384.817 L 41.767 25.358 " style="fill: none; stroke: #000000; stroke-width: 0.85; stroke-linejoin: miter; stroke-linecap: square"/> </g> <g id="patch_4"> <path d="M 41.584 384.817 L 704.224 384.817 " style="fill: none; stroke: #000000; stroke-width: 1.2; stroke-linejoin: miter; stroke-linecap: square"/> </g> <g id="text_17"> <!-- Effect of Geosynthetic Inclusion on Plasticity Index of Black Cotton Soil --> <g transform="translate(89.819 19.358) scale(0.16 -0.16)"> <defs> <path id="DejaVuSans-45" d="M 628 4666 L 3578 4666 L 3578 4134 L 1259 4134 L 1259 2753 L 3481 2753 L 3481 2222 L 1259 2222 L 1259 531 L 3634 531 L 3634 0 L 628 0 L 628 4666 z " transform="scale(0.016)"/> <path id="DejaVuSans-66" d="M 2375 4863 L 2375 4384 L 1825 4384 Q 1516 4384 1395 4259 Q 1275 4134 1275 3809 L 1275 3500 L 2222 3500 L 2222 3053 L 1275 3053 L 1275 0 L 697 0 L 697 3053 L 147 3053 L 147 3500 L 697 3500 L 697 3744 Q 697 4328 969 4595 Q 1241 4863 1831 4863 L 2375 4863 z " transform="scale(0.016)"/> <path id="DejaVuSans-47" d="M 3809 666 L 3809 1919 L 2778 1919 L 2778 2438 L 4434 2438 L 4434 434 Q 4069 175 3628 42 Q 3188 -91 2688 -91 Q 1594 -91 976 548 Q 359 1188 359 2328 Q 359 3472 976 4111 Q 1594 4750 2688 4750 Q 3144 4750 3555 4637 Q 3966 4525 4313 4306 L 4313 3634 Q 3963 3931 3569 4081 Q 3175 4231 2741 4231 Q 1884 4231 1454 3753 Q 1025 3275 1025 2328 Q 1025 1384 1454 906 Q 1884 428 2741 428 Q 3075 428 3337 486 Q 3600 544 3809 666 z " transform="scale(0.016)"/> <path id="DejaVuSans-68" d="M 3513 2113 L 3513 0 L 2938 0 L 2938 2094 Q 2938 2591 2744 2837 Q 2550 3084 2163 3084 Q 1697 3084 1428 2787 Q 1159 2491 1159 1978 L 1159 0 L 581 0 L 581 4863 L 1159 4863 L 1159 2956 Q 1366 3272 1645 3428 Q 1925 3584 2291 3584 Q 2894 3584 3203 3211 Q 3513 2838 3513 2113 z " transform="scale(0.016)"/> <path id="DejaVuSans-42" d="M 1259 2228 L 1259 519 L 2272 519 Q 2781 519 3026 730 Q 3272 941 3272 1375 Q 3272 1813 3026 2020 Q 2781 2228 2272 2228 L 1259 2228 z M 1259 4147 L 1259 2741 L 2194 2741 Q 2656 2741 2882 2914 Q 3109 3088 3109 3444 Q 3109 3797 2882 3972 Q 2656 4147 2194 4147 L 1259 4147 z M 628 4666 L 2241 4666 Q 2963 4666 3353 4366 Q 3744 4066 3744 3513 Q 3744 3084 3544 2831 Q 3344 2578 2956 2516 Q 3422 2416 3680 2098 Q 3938 1781 3938 1306 Q 3938 681 3513 340 Q 3088 0 2303 0 L 628 0 L 628 4666 z " transform="scale(0.016)"/> <path id="DejaVuSans-6b" d="M 581 4863 L 1159 4863 L 1159 1991 L 2875 3500 L 3609 3500 L 1753 1863 L 3688 0 L 2938 0 L 1159 1709 L 1159 0 L 581 0 L 581 4863 z " transform="scale(0.016)"/> <path id="DejaVuSans-43" d="M 4122 4306 L 4122 3641 Q 3803 3938 3442 4084 Q 3081 4231 2675 4231 Q 1875 4231 1450 3742 Q 1025 3253 1025 2328 Q 1025 1406 1450 917 Q 1875 428 2675 428 Q 3081 428 3442 575 Q 3803 722 4122 1019 L 4122 359 Q 3791 134 3420 21 Q 3050 -91 2638 -91 Q 1578 -91 968 557 Q 359 1206 359 2328 Q 359 3453 968 4101 Q 1578 4750 2638 4750 Q 3056 4750 3426 4639 Q 3797 4528 4122 4306 z " transform="scale(0.016)"/> <path id="DejaVuSans-53" d="M 3425 4513 L 3425 3897 Q 3066 4069 2747 4153 Q 2428 4238 2131 4238 Q 1616 4238 1336 4038 Q 1056 3838 1056 3469 Q 1056 3159 1242 3001 Q 1428 2844 1947 2747 L 2328 2669 Q 3034 2534 3370 2195 Q 3706 1856 3706 1288 Q 3706 609 3251 259 Q 2797 -91 1919 -91 Q 1588 -91 1214 -16 Q 841 59 441 206 L 441 856 Q 825 641 1194 531 Q 1563 422 1919 422 Q 2459 422 2753 634 Q 3047 847 3047 1241 Q 3047 1584 2836 1778 Q 2625 1972 2144 2069 L 1759 2144 Q 1053 2284 737 2584 Q 422 2884 422 3419 Q 422 4038 858 4394 Q 1294 4750 2059 4750 Q 2388 4750 2728 4690 Q 3069 4631 3425 4513 z " transform="scale(0.016)"/> </defs> <use href="#DejaVuSans-45"/> <use href="#DejaVuSans-66" transform="translate(63.184 0)"/> <use href="#DejaVuSans-66" transform="translate(98.389 0)"/> <use href="#DejaVuSans-65" transform="translate(133.594 0)"/> <use href="#DejaVuSans-63" transform="translate(195.117 0)"/> <use href="#DejaVuSans-74" transform="translate(250.098 0)"/> <use href="#DejaVuSans-20" transform="translate(289.307 0)"/> <use href="#DejaVuSans-6f" transform="translate(321.094 0)"/> <use href="#DejaVuSans-66" transform="translate(382.275 0)"/> <use href="#DejaVuSans-20" transform="translate(417.48 0)"/> <use href="#DejaVuSans-47" transform="translate(449.268 0)"/> <use href="#DejaVuSans-65" transform="translate(526.758 0)"/> <use href="#DejaVuSans-6f" transform="translate(588.281 0)"/> <use href="#DejaVuSans-73" transform="translate(649.463 0)"/> <use href="#DejaVuSans-79" transform="translate(701.562 0)"/> <use href="#DejaVuSans-6e" transform="translate(760.742 0)"/> <use href="#DejaVuSans-74" transform="translate(824.121 0)"/> <use href="#DejaVuSans-68" transform="translate(863.33 0)"/> <use href="#DejaVuSans-65" transform="translate(926.709 0)"/> <use href="#DejaVuSans-74" transform="translate(988.232 0)"/> <use href="#DejaVuSans-69" transform="translate(1027.441 0)"/> <use href="#DejaVuSans-63" transform="translate(1055.225 0)"/> <use href="#DejaVuSans-20" transform="translate(1110.205 0)"/> <use href="#DejaVuSans-49" transform="translate(1141.992 0)"/> <use href="#DejaVuSans-6e" transform="translate(1171.484 0)"/> <use href="#DejaVuSans-63" transform="translate(1234.863 0)"/> <use href="#DejaVuSans-6c" transform="translate(1289.844 0)"/> <use href="#DejaVuSans-75" transform="translate(1317.627 0)"/> <use href="#DejaVuSans-73" transform="translate(1381.006 0)"/> <use href="#DejaVuSans-69" transform="translate(1433.105 0)"/> <use href="#DejaVuSans-6f" transform="translate(1460.889 0)"/> <use href="#DejaVuSans-6e" transform="translate(1522.07 0)"/> <use href="#DejaVuSans-20" transform="translate(1585.449 0)"/> <use href="#DejaVuSans-6f" transform="translate(1617.236 0)"/> <use href="#DejaVuSans-6e" transform="translate(1678.418 0)"/> <use href="#DejaVuSans-20" transform="translate(1741.797 0)"/> <use href="#DejaVuSans-50" transform="translate(1773.584 0)"/> <use href="#DejaVuSans-6c" transform="translate(1833.887 0)"/> <use href="#DejaVuSans-61" transform="translate(1861.67 0)"/> <use href="#DejaVuSans-73" transform="translate(1922.949 0)"/> <use href="#DejaVuSans-74" transform="translate(1975.049 0)"/> <use href="#DejaVuSans-69" transform="translate(2014.258 0)"/> <use href="#DejaVuSans-63" transform="translate(2042.041 0)"/> <use href="#DejaVuSans-69" transform="translate(2097.021 0)"/> <use href="#DejaVuSans-74" transform="translate(2124.805 0)"/> <use href="#DejaVuSans-79" transform="translate(2164.014 0)"/> <use href="#DejaVuSans-20" transform="translate(2223.193 0)"/> <use href="#DejaVuSans-49" transform="translate(2254.98 0)"/> <use href="#DejaVuSans-6e" transform="translate(2284.473 0)"/> <use href="#DejaVuSans-64" transform="translate(2347.852 0)"/> <use href="#DejaVuSans-65" transform="translate(2411.328 0)"/> <use href="#DejaVuSans-78" transform="translate(2471.102 0)"/> <use href="#DejaVuSans-20" transform="translate(2530.281 0)"/> <use href="#DejaVuSans-6f" transform="translate(2562.068 0)"/> <use href="#DejaVuSans-66" transform="translate(2623.25 0)"/> <use href="#DejaVuSans-20" transform="translate(2658.455 0)"/> <use href="#DejaVuSans-42" transform="translate(2690.242 0)"/> <use href="#DejaVuSans-6c" transform="translate(2758.846 0)"/> <use href="#DejaVuSans-61" transform="translate(2786.629 0)"/> <use href="#DejaVuSans-63" transform="translate(2847.908 0)"/> <use href="#DejaVuSans-6b" transform="translate(2902.889 0)"/> <use href="#DejaVuSans-20" transform="translate(2960.799 0)"/> <use href="#DejaVuSans-43" transform="translate(2992.586 0)"/> <use href="#DejaVuSans-6f" transform="translate(3062.41 0)"/> <use href="#DejaVuSans-74" transform="translate(3123.592 0)"/> <use href="#DejaVuSans-74" transform="translate(3162.801 0)"/> <use href="#DejaVuSans-6f" transform="translate(3202.01 0)"/> <use href="#DejaVuSans-6e" transform="translate(3263.191 0)"/> <use href="#DejaVuSans-20" transform="translate(3326.57 0)"/> <use href="#DejaVuSans-53" transform="translate(3358.357 0)"/> <use href="#DejaVuSans-6f" transform="translate(3421.834 0)"/> <use href="#DejaVuSans-69" transform="translate(3483.016 0)"/> <use href="#DejaVuSans-6c" transform="translate(3510.799 0)"/> </g> </g> <g id="legend_1"> <g id="patch_5"> <path d="M 590.491 138.504 L 697.224 138.504 Q 699.224 138.504 699.224 136.504 L 699.224 32.358 Q 699.224 30.358 697.224 30.358 L 590.491 30.358 Q 588.491 30.358 588.491 32.358 L 588.491 136.504 Q 588.491 138.504 590.491 138.504 z " style="fill: #ffffff; opacity: 0.8; stroke: #cccccc; stroke-linejoin: miter"/> </g> <g id="text_18"> <!-- Geosynthetic Type --> <g transform="translate(597.739 41.956) scale(0.1 -0.1)"> <defs> <path id="DejaVuSans-54" d="M -19 4666 L 3928 4666 L 3928 4134 L 2272 4134 L 2272 0 L 1638 0 L 1638 4134 L -19 4134 L -19 4666 z " transform="scale(0.016)"/> <path id="DejaVuSans-70" d="M 1159 525 L 1159 -1331 L 581 -1331 L 581 3500 L 1159 3500 L 1159 2969 Q 1341 3281 1617 3432 Q 1894 3584 2278 3584 Q 2916 3584 3314 3078 Q 3713 2572 3713 1747 Q 3713 922 3314 415 Q 2916 -91 2278 -91 Q 1894 -91 1617 61 Q 1341 213 1159 525 z M 3116 1747 Q 3116 2381 2855 2742 Q 2594 3103 2138 3103 Q 1681 3103 1420 2742 Q 1159 2381 1159 1747 Q 1159 1113 1420 752 Q 1681 391 2138 391 Q 2594 391 2855 752 Q 3116 1113 3116 1747 z " transform="scale(0.016)"/> </defs> <use href="#DejaVuSans-47"/> <use href="#DejaVuSans-65" transform="translate(77.49 0)"/> <use href="#DejaVuSans-6f" transform="translate(139.014 0)"/> <use href="#DejaVuSans-73" transform="translate(200.195 0)"/> <use href="#DejaVuSans-79" transform="translate(252.295 0)"/> <use href="#DejaVuSans-6e" transform="translate(311.475 0)"/> <use href="#DejaVuSans-74" transform="translate(374.854 0)"/> <use href="#DejaVuSans-68" transform="translate(414.062 0)"/> <use href="#DejaVuSans-65" transform="translate(477.441 0)"/> <use href="#DejaVuSans-74" transform="translate(538.965 0)"/> <use href="#DejaVuSans-69" transform="translate(578.174 0)"/> <use href="#DejaVuSans-63" transform="translate(605.957 0)"/> <use href="#DejaVuSans-20" transform="translate(660.938 0)"/> <use href="#DejaVuSans-54" transform="translate(692.725 0)"/> <use href="#DejaVuSans-79" transform="translate(738.184 0)"/> <use href="#DejaVuSans-70" transform="translate(797.363 0)"/> <use href="#DejaVuSans-65" transform="translate(860.84 0)"/> </g> </g> <g id="line2d_35"> <path d="M 592.491 53.534 L 602.491 53.534 L 612.491 53.534 " style="fill: none; stroke: #ff9a0a; stroke-width: 1.65; stroke-linecap: square"/> <g> <use href="#m52449b6ec6" x="602.491" y="53.534" style="fill: #ff9a0a; stroke: #ff9a0a"/> </g> </g> <g id="text_19"> <!-- Geotextile --> <g transform="translate(620.491 57.034) scale(0.1 -0.1)"> <use href="#DejaVuSans-47"/> <use href="#DejaVuSans-65" transform="translate(77.49 0)"/> <use href="#DejaVuSans-6f" transform="translate(139.014 0)"/> <use href="#DejaVuSans-74" transform="translate(200.195 0)"/> <use href="#DejaVuSans-65" transform="translate(239.404 0)"/> <use href="#DejaVuSans-78" transform="translate(299.178 0)"/> <use href="#DejaVuSans-74" transform="translate(358.357 0)"/> <use href="#DejaVuSans-69" transform="translate(397.566 0)"/> <use href="#DejaVuSans-6c" transform="translate(425.35 0)"/> <use href="#DejaVuSans-65" transform="translate(453.133 0)"/> </g> </g> <g id="line2d_36"> <path d="M 592.491 68.612 L 602.491 68.612 L 612.491 68.612 " style="fill: none; stroke: #f44e16; stroke-width: 1.65; stroke-linecap: square"/> <g> <use href="#m06e611235e" x="602.491" y="68.612" style="fill: #f44e16; stroke: #f44e16"/> </g> </g> <g id="text_20"> <!-- Geogrid --> <g transform="translate(620.491 72.112) scale(0.1 -0.1)"> <defs> <path id="DejaVuSans-67" d="M 2906 1791 Q 2906 2416 2648 2759 Q 2391 3103 1925 3103 Q 1463 3103 1205 2759 Q 947 2416 947 1791 Q 947 1169 1205 825 Q 1463 481 1925 481 Q 2391 481 2648 825 Q 2906 1169 2906 1791 z M 3481 434 Q 3481 -459 3084 -895 Q 2688 -1331 1869 -1331 Q 1566 -1331 1297 -1286 Q 1028 -1241 775 -1147 L 775 -588 Q 1028 -725 1275 -790 Q 1522 -856 1778 -856 Q 2344 -856 2625 -561 Q 2906 -266 2906 331 L 2906 616 Q 2728 306 2450 153 Q 2172 0 1784 0 Q 1141 0 747 490 Q 353 981 353 1791 Q 353 2603 747 3093 Q 1141 3584 1784 3584 Q 2172 3584 2450 3431 Q 2728 3278 2906 2969 L 2906 3500 L 3481 3500 L 3481 434 z " transform="scale(0.016)"/> <path id="DejaVuSans-72" d="M 2631 2963 Q 2534 3019 2420 3045 Q 2306 3072 2169 3072 Q 1681 3072 1420 2755 Q 1159 2438 1159 1844 L 1159 0 L 581 0 L 581 3500 L 1159 3500 L 1159 2956 Q 1341 3275 1631 3429 Q 1922 3584 2338 3584 Q 2397 3584 2469 3576 Q 2541 3569 2628 3553 L 2631 2963 z " transform="scale(0.016)"/> </defs> <use href="#DejaVuSans-47"/> <use href="#DejaVuSans-65" transform="translate(77.49 0)"/> <use href="#DejaVuSans-6f" transform="translate(139.014 0)"/> <use href="#DejaVuSans-67" transform="translate(200.195 0)"/> <use href="#DejaVuSans-72" transform="translate(263.672 0)"/> <use href="#DejaVuSans-69" transform="translate(304.785 0)"/> <use href="#DejaVuSans-64" transform="translate(332.568 0)"/> </g> </g> <g id="line2d_37"> <path d="M 592.491 83.69 L 602.491 83.69 L 612.491 83.69 " style="fill: none; stroke: #ef2248; stroke-width: 1.65; stroke-linecap: square"/> <g> <use href="#mc37b9d2860" x="602.491" y="83.69" style="fill: #ef2248; stroke: #ef2248"/> </g> </g> <g id="text_21"> <!-- Geocell --> <g transform="translate(620.491 87.19) scale(0.1 -0.1)"> <use href="#DejaVuSans-47"/> <use href="#DejaVuSans-65" transform="translate(77.49 0)"/> <use href="#DejaVuSans-6f" transform="translate(139.014 0)"/> <use href="#DejaVuSans-63" transform="translate(200.195 0)"/> <use href="#DejaVuSans-65" transform="translate(255.176 0)"/> <use href="#DejaVuSans-6c" transform="translate(316.699 0)"/> <use href="#DejaVuSans-6c" transform="translate(344.482 0)"/> </g> </g> <g id="line2d_38"> <path d="M 592.491 98.768 L 602.491 98.768 L 612.491 98.768 " style="fill: none; stroke: #ff36b4; stroke-width: 1.65; stroke-linecap: square"/> <g> <use href="#m6ee39c3e24" x="602.491" y="98.768" style="fill: #ff36b4; stroke: #ff36b4"/> </g> </g> <g id="text_22"> <!-- Geomembrane --> <g transform="translate(620.491 102.268) scale(0.1 -0.1)"> <defs> <path id="DejaVuSans-6d" d="M 3328 2828 Q 3544 3216 3844 3400 Q 4144 3584 4550 3584 Q 5097 3584 5394 3201 Q 5691 2819 5691 2113 L 5691 0 L 5113 0 L 5113 2094 Q 5113 2597 4934 2840 Q 4756 3084 4391 3084 Q 3944 3084 3684 2787 Q 3425 2491 3425 1978 L 3425 0 L 2847 0 L 2847 2094 Q 2847 2600 2669 2842 Q 2491 3084 2119 3084 Q 1678 3084 1418 2786 Q 1159 2488 1159 1978 L 1159 0 L 581 0 L 581 3500 L 1159 3500 L 1159 2956 Q 1356 3278 1631 3431 Q 1906 3584 2284 3584 Q 2666 3584 2933 3390 Q 3200 3197 3328 2828 z " transform="scale(0.016)"/> <path id="DejaVuSans-62" d="M 3116 1747 Q 3116 2381 2855 2742 Q 2594 3103 2138 3103 Q 1681 3103 1420 2742 Q 1159 2381 1159 1747 Q 1159 1113 1420 752 Q 1681 391 2138 391 Q 2594 391 2855 752 Q 3116 1113 3116 1747 z M 1159 2969 Q 1341 3281 1617 3432 Q 1894 3584 2278 3584 Q 2916 3584 3314 3078 Q 3713 2572 3713 1747 Q 3713 922 3314 415 Q 2916 -91 2278 -91 Q 1894 -91 1617 61 Q 1341 213 1159 525 L 1159 0 L 581 0 L 581 4863 L 1159 4863 L 1159 2969 z " transform="scale(0.016)"/> </defs> <use href="#DejaVuSans-47"/> <use href="#DejaVuSans-65" transform="translate(77.49 0)"/> <use href="#DejaVuSans-6f" transform="translate(139.014 0)"/> <use href="#DejaVuSans-6d" transform="translate(200.195 0)"/> <use href="#DejaVuSans-65" transform="translate(297.607 0)"/> <use href="#DejaVuSans-6d" transform="translate(359.131 0)"/> <use href="#DejaVuSans-62" transform="translate(456.543 0)"/> <use href="#DejaVuSans-72" transform="translate(520.02 0)"/> <use href="#DejaVuSans-61" transform="translate(561.133 0)"/> <use href="#DejaVuSans-6e" transform="translate(622.412 0)"/> <use href="#DejaVuSans-65" transform="translate(685.791 0)"/> </g> </g> <g id="line2d_39"> <path d="M 592.491 113.847 L 602.491 113.847 L 612.491 113.847 " style="fill: none; stroke: #1ca4ff; stroke-width: 1.65; stroke-linecap: square"/> <g> <use href="#m31821028c3" x="602.491" y="113.847" style="fill: #1ca4ff; stroke: #1ca4ff"/> </g> </g> <g id="text_23"> <!-- Geomat --> <g transform="translate(620.491 117.347) scale(0.1 -0.1)"> <use href="#DejaVuSans-47"/> <use href="#DejaVuSans-65" transform="translate(77.49 0)"/> <use href="#DejaVuSans-6f" transform="translate(139.014 0)"/> <use href="#DejaVuSans-6d" transform="translate(200.195 0)"/> <use href="#DejaVuSans-61" transform="translate(297.607 0)"/> <use href="#DejaVuSans-74" transform="translate(358.887 0)"/> </g> </g> <g id="line2d_40"> <path d="M 592.491 128.925 L 602.491 128.925 L 612.491 128.925 " style="fill: none; stroke: #10bda8; stroke-width: 1.65; stroke-linecap: square"/> <g> <use href="#ma050b7226b" x="602.491" y="128.925" style="fill: #10bda8; stroke: #10bda8"/> </g> </g> <g id="text_24"> <!-- Geocomposite --> <g transform="translate(620.491 132.425) scale(0.1 -0.1)"> <use href="#DejaVuSans-47"/> <use href="#DejaVuSans-65" transform="translate(77.49 0)"/> <use href="#DejaVuSans-6f" transform="translate(139.014 0)"/> <use href="#DejaVuSans-63" transform="translate(200.195 0)"/> <use href="#DejaVuSans-6f" transform="translate(255.176 0)"/> <use href="#DejaVuSans-6d" transform="translate(316.357 0)"/> <use href="#DejaVuSans-70" transform="translate(413.77 0)"/> <use href="#DejaVuSans-6f" transform="translate(477.246 0)"/> <use href="#DejaVuSans-73" transform="translate(538.428 0)"/> <use href="#DejaVuSans-69" transform="translate(590.527 0)"/> <use href="#DejaVuSans-74" transform="translate(618.311 0)"/> <use href="#DejaVuSans-65" transform="translate(657.52 0)"/> </g> </g> </g> </g> </g> <defs> <clipPath id="pd07995633c"> <rect x="41.584" y="25.358" width="662.64" height="359.46"/> </clipPath> </defs> </svg> </div>
<div id="cap">Figure 4: Plastic Limit of Geosynthetic illusion on Plasticity Index</div>
</body></html>
